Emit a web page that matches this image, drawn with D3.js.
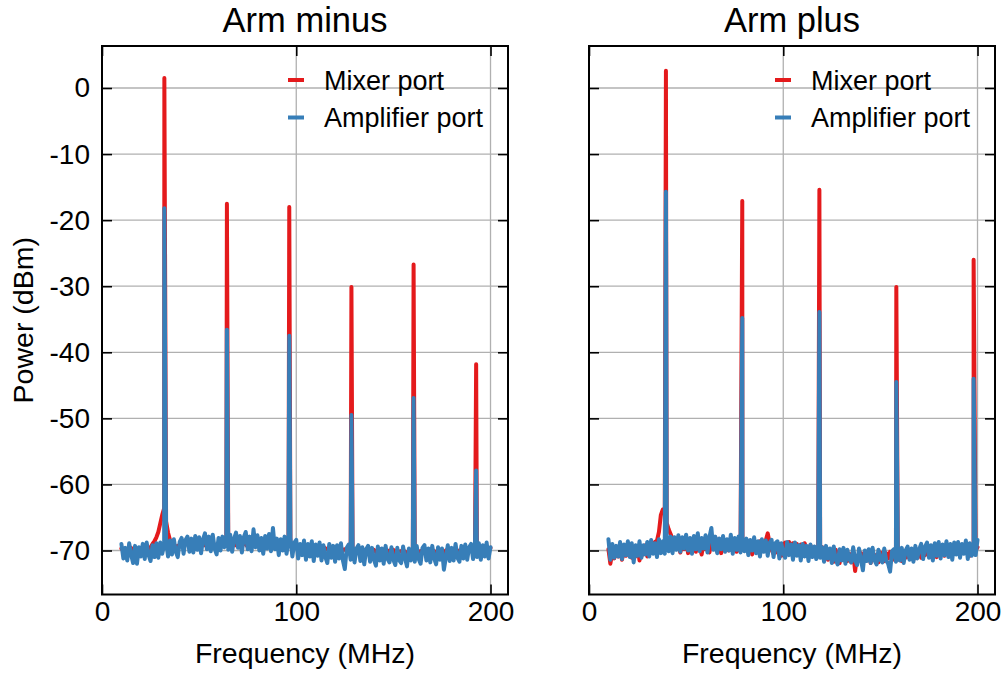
<!DOCTYPE html>
<html>
<head>
<meta charset="utf-8">
<script src="https://cdn.jsdelivr.net/npm/d3@7"></script>
<style>
  html, body { margin: 0; padding: 0; background: #fff; }
  svg { display: block; font-family: "Liberation Sans", Arial, Helvetica, sans-serif; }
</style>
</head>
<body>
<svg id="chart" width="1005" height="673"></svg>
<script>
// ---------------- DATA ----------------
const panelTitles = ["Arm minus", "Arm plus"];
const seriesNames = ["Mixer port", "Amplifier port"];
const xTicks = [0, 100, 200];
const yTicks = [0, -10, -20, -30, -40, -50, -60, -70];

// noise floor sampled every 1 MHz, 10..200 MHz
const noiseFreq = d3.range(10, 201);

// Arm minus — amplifier port noise
const minusAmpNoise = [
 -69.0,-71.2,-69.6,-71.5,-68.9,-70.6,-71.9,-69.3,-72.0,-69.5,
 -70.9,-69.0,-71.3,-68.8,-70.7,-71.6,-69.2,-71.0,-68.9,-71.1,
 -68.8,-70.5,-69.1,-68.6,-70.9,-68.5,-70.6,-68.3,-70.2,-71.0,
 -68.7,-68.1,-70.5,-68.4,-67.9,-70.2,-68.2,-70.3,-67.8,-69.9,
 -68.0,-70.4,-68.3,-67.4,-69.8,-67.9,-70.1,-67.6,-69.7,-70.6,
 -68.1,-70.0,-67.9,-69.5,-68.0,-69.9,-67.6,-70.2,-68.2,-67.3,
 -69.6,-67.8,-70.3,-68.0,-67.2,-69.8,-67.9,-70.1,-66.8,-69.5,
 -67.7,-70.0,-68.1,-70.5,-67.8,-69.7,-67.5,-70.1,-66.6,-69.8,
 -68.2,-70.7,-68.3,-70.0,-67.9,-70.5,-68.6,-68.1,-70.9,-68.8,
 -68.4,-71.2,-69.0,-70.7,-68.5,-71.4,-69.0,-70.9,-68.6,-71.6,
 -69.1,-70.8,-68.8,-71.5,-69.2,-71.0,-71.9,-69.0,-71.1,-69.3,
 -71.7,-69.2,-71.2,-68.9,-71.5,-72.8,-69.6,-69.1,-71.4,-69.3,
 -71.8,-69.7,-69.2,-71.6,-69.5,-72.1,-69.8,-69.3,-71.7,-69.6,
 -71.4,-72.3,-69.4,-71.5,-69.7,-72.0,-69.3,-71.3,-71.8,-69.5,
 -71.4,-72.2,-69.6,-71.5,-71.9,-69.4,-71.2,-72.4,-69.7,-71.5,
 -69.8,-71.7,-69.3,-71.3,-72.0,-69.6,-69.2,-71.5,-69.7,-71.8,
 -69.3,-71.2,-72.1,-69.5,-71.4,-69.7,-72.9,-71.1,-69.2,-71.6,
 -69.6,-71.5,-69.0,-71.1,-71.7,-69.3,-71.2,-69.1,-71.4,-69.5,
 -69.0,-71.3,-69.3,-71.0,-68.9,-71.4,-69.2,-70.9,-68.8,-71.2,
 -69.5
];
// Arm minus — mixer port noise
const minusMixNoise = [
 -69.7,-70.0,-69.8,-70.1,-69.9,-69.6,-70.0,-69.8,-69.7,-70.1,
 -69.9,-69.6,-69.8,-69.7,-69.9,-69.5,-69.0,-68.6,-68.0,-67.2,
 -65.9,-64.6,-63.6,-65.6,-67.3,-68.4,-69.0,-69.3,-69.4,-69.3,
 -69.2,-68.9,-69.4,-69.0,-68.8,-69.3,-68.9,-69.5,-68.7,-69.1,
 -68.9,-69.4,-68.8,-69.2,-69.0,-68.7,-69.3,-68.9,-69.1,-69.4,
 -68.9,-69.2,-68.8,-69.0,-68.7,-69.3,-68.9,-69.1,-68.8,-69.2,
 -69.0,-68.9,-69.3,-68.8,-69.1,-69.4,-68.9,-69.2,-68.7,-69.0,
 -68.9,-69.3,-69.0,-69.4,-68.8,-69.1,-68.9,-69.2,-69.0,-69.3,
 -69.1,-69.4,-69.0,-69.3,-68.9,-69.5,-69.2,-69.0,-69.6,-69.3,
 -69.4,-69.7,-69.3,-69.6,-69.5,-69.8,-69.4,-69.7,-69.3,-69.6,
 -69.5,-69.8,-69.6,-69.9,-69.5,-69.7,-69.8,-69.6,-69.9,-69.7,
 -70.0,-69.6,-69.8,-69.7,-70.0,-69.8,-69.9,-69.7,-70.1,-69.8,
 -70.0,-69.8,-69.7,-70.1,-69.9,-70.2,-69.8,-70.0,-69.9,-70.1,
 -69.9,-70.2,-70.0,-69.8,-70.1,-69.9,-70.8,-70.2,-70.0,-70.1,
 -69.9,-70.3,-70.0,-70.2,-70.1,-69.9,-70.2,-70.4,-70.0,-70.1,
 -70.2,-70.0,-69.9,-70.2,-70.1,-70.0,-69.9,-70.3,-70.0,-70.2,
 -69.9,-70.1,-70.3,-70.0,-70.2,-70.1,-70.4,-70.0,-69.9,-70.2,
 -70.0,-70.1,-69.8,-70.0,-70.2,-69.9,-70.1,-69.8,-70.0,-69.9,
 -69.7,-69.9,-69.8,-69.9,-69.6,-69.8,-69.7,-69.8,-69.5,-69.7,
 -69.6
];
// Arm plus — amplifier port noise
const plusAmpNoise = [
 -68.3,-71.4,-69.0,-71.1,-69.3,-70.9,-68.7,-71.3,-69.1,-70.7,
 -68.6,-71.0,-68.9,-71.8,-69.2,-70.8,-68.6,-71.1,-69.2,-70.6,
 -68.7,-70.9,-68.4,-70.5,-68.9,-71.0,-68.3,-70.4,-68.6,-70.5,
 -68.2,-70.1,-67.9,-70.4,-68.0,-69.9,-67.7,-70.2,-68.0,-69.7,
 -67.6,-70.0,-68.1,-70.5,-67.8,-69.8,-67.4,-70.1,-68.1,-69.7,
 -67.7,-70.3,-68.0,-66.6,-69.9,-67.9,-70.4,-68.2,-69.8,-67.8,
 -70.2,-68.3,-70.0,-67.6,-70.5,-68.1,-69.9,-67.9,-70.3,-68.4,
 -70.1,-68.2,-70.7,-68.4,-70.0,-68.0,-70.4,-68.6,-70.9,-68.3,
 -70.2,-68.5,-70.8,-68.8,-68.4,-71.0,-68.9,-68.6,-71.2,-68.9,
 -70.4,-71.1,-68.7,-70.7,-69.1,-71.4,-68.8,-70.8,-69.2,-71.5,
 -69.0,-70.9,-69.3,-71.6,-69.1,-71.0,-69.4,-71.3,-69.2,-71.1,
 -69.5,-71.7,-69.3,-71.2,-69.7,-71.9,-69.4,-71.4,-72.1,-69.8,
 -71.5,-69.6,-72.0,-69.9,-71.3,-71.8,-69.5,-71.5,-72.2,-69.7,
 -71.4,-73.0,-70.0,-71.6,-69.8,-71.9,-69.6,-71.5,-72.1,-69.9,
 -71.4,-71.8,-69.7,-71.5,-72.0,-73.2,-70.1,-69.8,-71.7,-69.9,
 -71.5,-69.6,-71.9,-70.0,-69.4,-71.4,-69.7,-71.7,-69.3,-71.2,
 -69.8,-69.0,-71.3,-69.4,-68.8,-71.1,-69.2,-71.5,-68.9,-70.8,
 -68.7,-71.2,-69.1,-70.7,-68.6,-71.0,-69.0,-71.4,-68.8,-70.6,
 -68.7,-71.1,-69.0,-70.5,-68.5,-71.3,-68.9,-70.8,-68.8,-70.7,
 -68.4
];
// Arm plus — mixer port noise
const plusMixNoise = [
 -69.8,-72.0,-70.3,-71.2,-69.4,-70.9,-70.0,-71.4,-69.6,-70.8,
 -70.4,-69.3,-71.1,-69.7,-70.9,-69.5,-71.5,-69.8,-70.6,-69.2,
 -70.9,-69.4,-70.3,-69.0,-68.7,-68.5,-67.2,-64.6,-63.8,-64.5,
 -65.8,-66.8,-67.5,-68.3,-69.0,-68.6,-69.0,-70.3,-68.9,-69.8,
 -68.3,-70.4,-68.7,-69.6,-68.1,-70.2,-68.5,-69.5,-70.6,-68.6,
 -69.8,-68.4,-70.3,-68.6,-69.5,-68.0,-70.1,-68.7,-70.4,-68.3,
 -69.6,-68.5,-70.0,-68.2,-69.4,-68.6,-70.2,-68.9,-70.1,-69.0,
 -69.8,-68.6,-70.3,-69.1,-70.6,-68.7,-69.9,-69.0,-68.6,-69.5,
 -69.4,-68.5,-67.4,-68.9,-69.9,-70.5,-69.1,-70.3,-69.0,-70.8,
 -69.3,-68.8,-70.2,-68.7,-69.8,-68.9,-70.4,-69.0,-70.5,-69.1,
 -69.9,-68.9,-69.7,-70.7,-69.2,-70.4,-69.5,-71.0,-69.6,-70.5,
 -69.5,-70.9,-69.8,-71.4,-70.0,-71.1,-71.7,-69.9,-71.2,-71.9,
 -70.3,-71.4,-70.1,-71.6,-70.5,-71.8,-70.4,-73.1,-70.8,-71.5,
 -70.4,-71.7,-70.2,-71.3,-70.6,-71.9,-70.1,-71.4,-70.7,-71.8,
 -70.3,-71.1,-71.6,-70.4,-71.2,-70.2,-71.5,-70.6,-71.0,-71.4,
 -70.3,-71.6,-70.5,-71.1,-70.0,-71.2,-70.2,-71.4,-70.1,-70.9,
 -69.9,-71.1,-69.8,-70.7,-69.5,-70.9,-69.9,-70.6,-69.6,-71.0,
 -69.8,-70.5,-69.3,-70.8,-69.6,-70.4,-69.2,-70.7,-69.5,-70.2,
 -69.1,-70.6,-69.4,-70.3,-68.9,-70.1,-70.8,-69.7,-69.2,-70.0,
 -69.5
];

// harmonic peaks (MHz, dBm)
const minusPeakFreq = [32.1, 64.3, 96.4, 128.4, 160.4, 192.6];
const minusPeakMix  = [1.5, -17.5, -18.0, -30.1, -26.7, -41.8];
const minusPeakAmp  = [-18.2, -36.6, -37.5, -49.5, -46.9, -57.9];
const plusPeakFreq  = [39.6, 78.9, 118.6, 158.2, 198.0];
const plusPeakMix   = [2.6, -17.1, -15.4, -30.1, -26.0];
const plusPeakAmp   = [-15.7, -34.8, -33.9, -44.5, -44.0];

// ---------------- LAYOUT ----------------
const colors = ["#e41a1c", "#377eb8"];
const panelLeft = [102, 589];
const panelWidth = 406;
const plotTop = 46, plotBottom = 594.5;
const xDomain = [0, 209];
const yDomain = [-76.66, 6.36];

function buildSeries(noise, pf, pv) {
  const pts = noiseFreq.map((f, i) => ({f: f, v: noise[i]}));
  pf.forEach((f, i) => pts.push({f: f, v: pv[i]}));
  pts.sort((a, b) => a.f - b.f);
  return pts;
}

const panels = [
  { title: panelTitles[0], series: [buildSeries(minusMixNoise, minusPeakFreq, minusPeakMix),
                                    buildSeries(minusAmpNoise, minusPeakFreq, minusPeakAmp)] },
  { title: panelTitles[1], series: [buildSeries(plusMixNoise, plusPeakFreq, plusPeakMix),
                                    buildSeries(plusAmpNoise, plusPeakFreq, plusPeakAmp)] }
];

const svg = d3.select("#chart");
const y = d3.scaleLinear().domain(yDomain).range([plotBottom, plotTop]);

panels.forEach((p, pi) => {
  const x0 = panelLeft[pi];
  const x = d3.scaleLinear().domain(xDomain).range([x0, x0 + panelWidth]);
  const g = svg.append("g");

  // grid
  const grid = g.append("g").attr("stroke", "#b0b0b0").attr("stroke-width", 1.3);
  xTicks.forEach(t => grid.append("line").attr("x1", x(t)).attr("x2", x(t))
    .attr("y1", plotTop).attr("y2", plotBottom));
  yTicks.forEach(t => grid.append("line").attr("x1", x0).attr("x2", x0 + panelWidth)
    .attr("y1", y(t)).attr("y2", y(t)));

  // clip
  const clipId = "clip" + pi;
  svg.append("clipPath").attr("id", clipId).append("rect")
    .attr("x", x0).attr("y", plotTop).attr("width", panelWidth).attr("height", plotBottom - plotTop);

  const line = d3.line().x(d => x(d.f)).y(d => y(d.v));
  p.series.forEach((s, si) => {
    g.append("path").datum(s)
      .attr("clip-path", `url(#${clipId})`)
      .attr("fill", "none").attr("stroke", colors[si])
      .attr("stroke-width", 4).attr("stroke-linejoin", "round").attr("stroke-linecap", "round")
      .attr("d", line);
  });

  // axes (inward ticks, all four sides)
  const fs = "28px";
  const axB = g.append("g").attr("transform", `translate(0,${plotBottom})`)
    .call(d3.axisBottom(x).tickValues(xTicks).tickSize(-10).tickPadding(7).tickFormat(d3.format("d")));
  const axT = g.append("g").attr("transform", `translate(0,${plotTop})`)
    .call(d3.axisTop(x).tickValues(xTicks).tickSize(-10).tickFormat(""));
  const axL = g.append("g").attr("transform", `translate(${x0},0)`)
    .call(d3.axisLeft(y).tickValues(yTicks).tickSize(-10).tickPadding(12)
      .tickFormat(pi === 0 ? (d => d3.format("d")(d).replace("−", "-")) : ""));
  const axR = g.append("g").attr("transform", `translate(${x0 + panelWidth},0)`)
    .call(d3.axisRight(y).tickValues(yTicks).tickSize(-10).tickFormat(""));
  [axB, axT, axL, axR].forEach(a => {
    a.select(".domain").remove();
    a.selectAll(".tick line").attr("stroke", "#000").attr("stroke-width", 1.6);
    a.selectAll("text").attr("font-size", fs).attr("fill", "#000")
      .attr("font-family", "'Liberation Sans', Arial, sans-serif");
  });

  // frame
  g.append("rect").attr("x", x0).attr("y", plotTop).attr("width", panelWidth)
    .attr("height", plotBottom - plotTop).attr("fill", "none").attr("stroke", "#000").attr("stroke-width", 2);

  // title
  g.append("text").attr("x", x0 + panelWidth / 2).attr("y", 32).attr("text-anchor", "middle")
    .attr("font-size", "34.5px").text(p.title);
  // x label
  g.append("text").attr("x", x0 + panelWidth / 2).attr("y", 663).attr("text-anchor", "middle")
    .attr("font-size", "28.5px").text("Frequency (MHz)");

  // legend
  const lg = g.append("g");
  seriesNames.forEach((n, i) => {
    const ly = 80 + i * 37.5;
    lg.append("line").attr("x1", x0 + 186).attr("x2", x0 + 202).attr("y1", ly).attr("y2", ly)
      .attr("stroke", colors[i]).attr("stroke-width", 4);
    lg.append("text").attr("x", x0 + 222).attr("y", ly + 9.5).attr("font-size", "27px").text(n);
  });
});

// y label
svg.append("text").attr("transform", `translate(33,${(plotTop + plotBottom) / 2}) rotate(-90)`)
  .attr("text-anchor", "middle").attr("font-size", "28.5px").text("Power (dBm)");
</script>
</body>
</html>
